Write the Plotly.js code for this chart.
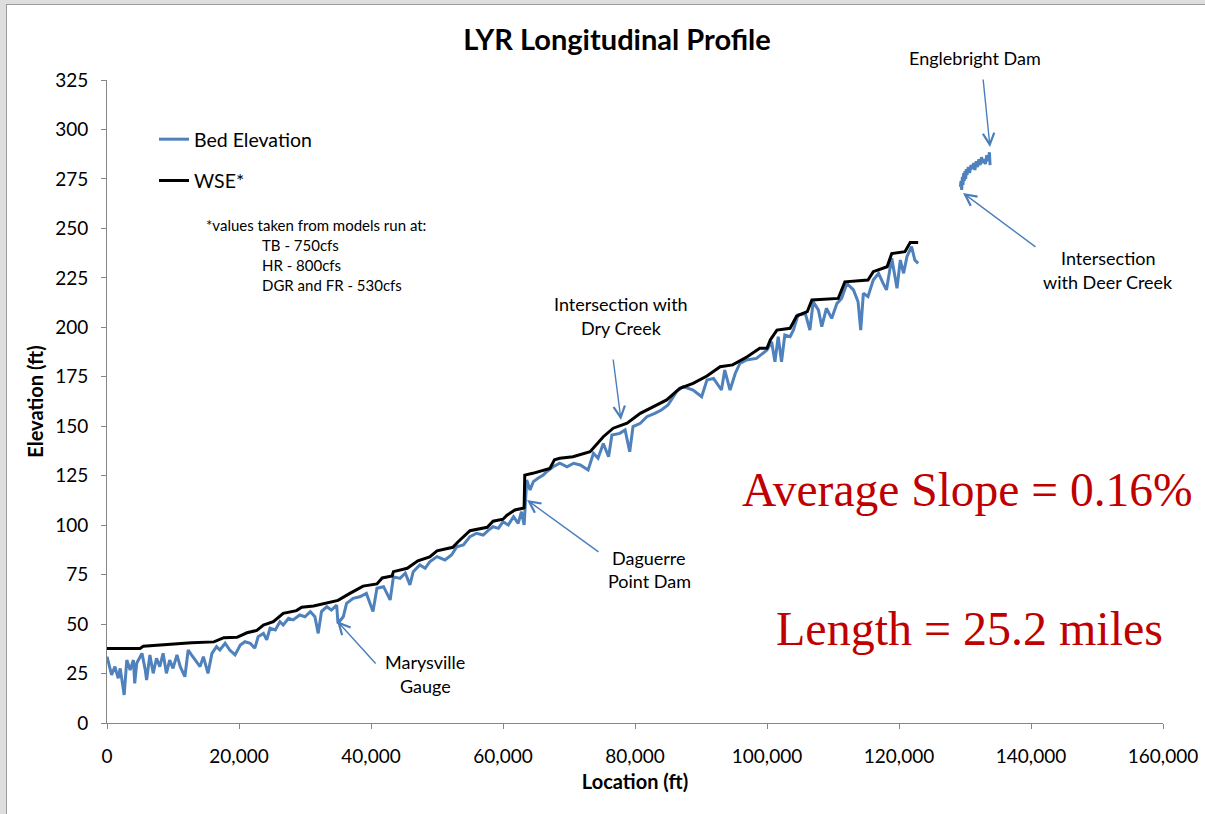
<!DOCTYPE html>
<html><head><meta charset="utf-8">
<script src="https://cdn.plot.ly/plotly-3.0.1.min.js"></script>
<style>
html,body{margin:0;padding:0;background:#dedede;width:1205px;height:814px;overflow:hidden}
#frame{position:absolute;left:6px;top:4px;width:1205px;height:820px;background:#fff;border:1px solid #9c9c9c}
#chart{position:absolute;left:0;top:0;width:1205px;height:814px}
</style></head>
<body><div id="frame"></div><div id="chart"></div>
<script>
// Bed elevation (ft) vs. location (ft), main reach
const bedX = [0,700,1200,1700,2000,2600,3000,3500,4000,4200,
  4500,5300,5800,6000,6500,7000,7500,8000,8500,9000,
  9500,10000,10600,11100,11800,12300,12800,13600,14100,14600,
  15300,15900,16600,17100,17900,18600,19400,20200,20900,21700,
  22400,22900,23700,24200,24700,25500,26200,26700,27500,28200,
  29200,30000,30800,31500,32000,32500,33300,34000,34800,35000,
  35800,36300,37300,38300,39300,40300,40900,41900,42900,43400,
  44400,45200,45900,46400,47400,48200,48900,50000,51200,52200,
  53000,54000,55000,56000,57000,57800,58500,59300,60000,60800,
  61600,62300,62800,63200,63600,64100,64600,65300,66100,66600,
  67600,68600,69700,70700,71700,72900,73700,74400,75200,76000,
  76500,77700,78500,79200,79700,80800,81800,83000,84000,85000,
  86300,87300,88800,90100,90900,91900,93100,93600,94400,95200,
  95900,96900,98400,100000,100700,101200,101700,102200,102700,103500,
  104000,104700,105800,106500,107000,107800,108300,109000,109800,110600,
  111300,112100,113100,113800,114200,114600,115300,116100,116900,117600,
  118100,118900,119700,120200,120700,121200,121900,122400,122900];
const bedY = [33.5,24.3,28.5,22.6,27.6,14.2,31.8,26.8,31.8,20,
  30.2,35.2,26.8,21.7,34.4,25.1,32.7,28.5,35.2,25.1,
  31.8,27.6,34.4,28.5,23.4,36.9,34.4,31,28.5,33.5,
  25.1,35.2,38.6,36.9,40.3,36.9,34.4,39.4,41.1,40.3,
  37.8,43.6,45.3,42,47.9,47,51.2,49.5,52.9,52.1,
  54.6,53.7,56.3,53.7,45.3,56.3,58.8,57.1,59.6,50.4,
  53.7,60.5,63,63.8,65.5,56.3,68.1,68.9,62.2,73.9,
  73.1,75.7,69.8,76.5,79.9,78.2,81.5,84.1,82.4,84.9,
  89.1,90,94.2,95.9,95,97.5,99.2,98.4,101.7,100.1,
  104.3,100.9,106.8,100.1,122.8,117.8,122,123.7,125.3,127,
  129.5,131.3,129.5,131.3,130.4,127.9,136.3,133.8,141.3,134.6,
  145.6,146.4,148.1,137.1,149.8,151.5,154.8,156.5,158.2,160.7,
  167.5,170,168.3,164.9,173.4,174.2,168.3,178.4,168.3,176.8,
  181.8,183.5,184.3,188.5,192.7,182.6,195.3,182.6,196.1,195.3,
  198.6,206.2,207.1,198.6,212.9,208.7,200.3,209.6,204.5,212.1,
  214.6,222.2,218.9,212.9,198.6,217.2,215.5,223.9,227.3,222.2,
  218.9,234.9,219.7,234,227.3,235.7,240.8,234,232.3];

// Bed elevation, reach between Deer Creek and Englebright Dam
const upperX = [129300,129400,129500,129600,129700,129800,129900,130000,130100,130200,
  130300,130500,130700,130900,131100,131300,131500,131700,131900,132100,
  132300,132500,132700,132900,133100,133300,133500,133700,133800];
const upperY = [271,274,269.5,276,272,278,274,279,275,280,
  277,281,278,282,280,283,279.5,284,281,285,
  282,286,283,285,282.5,287,284,288.5,282];

// Water surface elevation (ft)
const wseX = [0,5000,5500,12800,16200,17700,19700,21200,22700,23700,
  25200,26700,28700,29500,31300,33300,35000,36800,38800,40900,
  41700,43200,43400,45500,47100,48900,50000,52400,53200,55000,
  57600,58500,60000,60600,61800,63000,63200,63300,64500,67100,
  67800,68600,70600,73200,75200,76700,78800,80800,82300,84800,
  86800,88800,90900,92900,94800,97000,98900,100000,100500,101500,
  103500,104500,106100,106800,110800,111800,115300,116100,118200,118900,
  120900,121700,122900];
const wseY = [37.7,37.7,38.8,40.6,41,43.1,43.3,45.6,46.8,49.5,
  51.2,55.4,56.8,58.5,59.1,60.5,62,65.5,69.2,70.3,
  73.3,74.3,76.5,78.2,82,84,87,88.8,91.6,97.2,
  98.9,102,103,105,107.7,108.5,108.8,125.3,126.2,128.7,
  133,133.8,134.6,137.1,144.7,149,151.5,156.5,159,163.3,
  169.2,171.7,175.4,180.1,181,185.1,189.4,189.4,193.6,198.6,
  199.5,205.7,207.9,213.8,214.6,223,223.9,228.1,230.6,237.3,
  238.2,242.9,242.9];

const xTicks = [0,20000,40000,60000,80000,100000,120000,140000,160000];
const xTickText = ["0","20,000","40,000","60,000","80,000","100,000","120,000","140,000","160,000"];
const yTicks = [0,25,50,75,100,125,150,175,200,225,250,275,300,325];

const BLUE = '#4f81bd', ARROW = '#4a7ebb', RED = '#c00000';
const FONT = 'Lato, "Open Sans", sans-serif';
const SERIF = '"Liberation Serif", "Times New Roman", serif';

// plot-area geometry (pixels) for placing free text
const L = 107, T = 80, W = 1056, H = 643;
function P(x, y){ return {x:(x-L)/W, y:(T+H-y)/H}; }

const traces = [
  {x: bedX, y: bedY, type:'scatter', mode:'lines', name:'Bed Elevation',
   legendgroup:'bed', line:{color:BLUE, width:3}},
  {x: wseX, y: wseY, type:'scatter', mode:'lines', name:'WSE*',
   legendgroup:'wse', line:{color:'#000', width:3}},
  {x: upperX, y: upperY, type:'scatter', mode:'lines', name:'Bed Elevation',
   legendgroup:'bed', showlegend:false, line:{color:BLUE, width:3}}
];

function txt(px, py, text, opts){
  const p = P(px, py);
  return Object.assign({xref:'paper', yref:'paper', x:p.x, y:p.y, text:text,
    showarrow:false, xanchor:'center', yanchor:'middle',
    font:{family:FONT, size:18, color:'#000'}}, opts||{});
}
function arrow(hx, hy, tx, ty){
  const p = P(hx, hy);
  return {xref:'paper', yref:'paper', x:p.x, y:p.y, ax:tx-hx, ay:ty-hy, text:'',
    showarrow:true, arrowhead:5, arrowsize:1.6, arrowwidth:1.4, arrowcolor:ARROW, standoff:0};
}
const noteFont = {family:FONT, size:15, color:'#000'};

const annotations = [
  txt(204, 225, '*values taken from models run at:', {xanchor:'left', font:noteFont}),
  txt(260, 245, 'TB - 750cfs', {xanchor:'left', font:noteFont}),
  txt(260, 265, 'HR - 800cfs', {xanchor:'left', font:noteFont}),
  txt(260, 285, 'DGR and FR - 530cfs', {xanchor:'left', font:noteFont}),
  txt(621, 304, 'Intersection with'),
  txt(621, 328, 'Dry Creek'),
  txt(649, 558, 'Daguerre'),
  txt(649, 581, 'Point Dam'),
  txt(425, 662, 'Marysville'),
  txt(425, 686, 'Gauge'),
  txt(975, 58, 'Englebright Dam'),
  txt(1108, 258, 'Intersection'),
  txt(1108, 282, 'with Deer Creek'),
  txt(967, 490, 'Average Slope = 0.16%', {font:{family:SERIF, size:47.5, color:RED}}),
  txt(969, 628, 'Length = 25.2 miles', {font:{family:SERIF, size:48, color:RED}}),
  arrow(621, 420, 613, 358),
  arrow(527, 500, 600, 553),
  arrow(337, 621, 377, 665),
  arrow(990, 147, 983, 78),
  arrow(963, 193, 1037, 248)
];

const axisCommon = {
  showgrid:false, zeroline:false, showline:true, linecolor:'#868686', linewidth:1,
  ticks:'outside', ticklen:5, tickcolor:'#868686', tickwidth:1,
  tickfont:{family:FONT, size:19, color:'#000'}
};

const layout = {
  width:1205, height:814,
  margin:{l:L, r:1205-L-W, t:T, b:814-T-H},
  paper_bgcolor:'rgba(0,0,0,0)', plot_bgcolor:'rgba(0,0,0,0)',
  title:{text:'<b>LYR Longitudinal Profile</b>', font:{family:FONT, size:29, color:'#000'},
    x:617/1205, xref:'container', xanchor:'center', y:1-40/814, yref:'container', yanchor:'middle'},
  xaxis:Object.assign({}, axisCommon, {range:[0,160000], tickvals:xTicks, ticktext:xTickText,
    ticklabelstandoff:11,
    title:{text:'<b>Location (ft)</b>', font:{family:FONT, size:20, color:'#000'}, standoff:9}}),
  yaxis:Object.assign({}, axisCommon, {range:[0,325], tickvals:yTicks,
    ticklabelstandoff:9,
    title:{text:'<b>Elevation (ft)</b>', font:{family:FONT, size:20, color:'#000'}, standoff:6}}),
  showlegend:true,
  legend:{x:P(154,0).x, y:P(0,120).y, xanchor:'left', yanchor:'top',
    bgcolor:'rgba(0,0,0,0)', font:{family:FONT, size:19.5, color:'#000'},
    traceorder:'grouped', tracegroupgap:13, itemwidth:30},
  annotations:annotations
};

Plotly.newPlot('chart', traces, layout, {displayModeBar:false, staticPlot:true});
</script>
</body></html>
